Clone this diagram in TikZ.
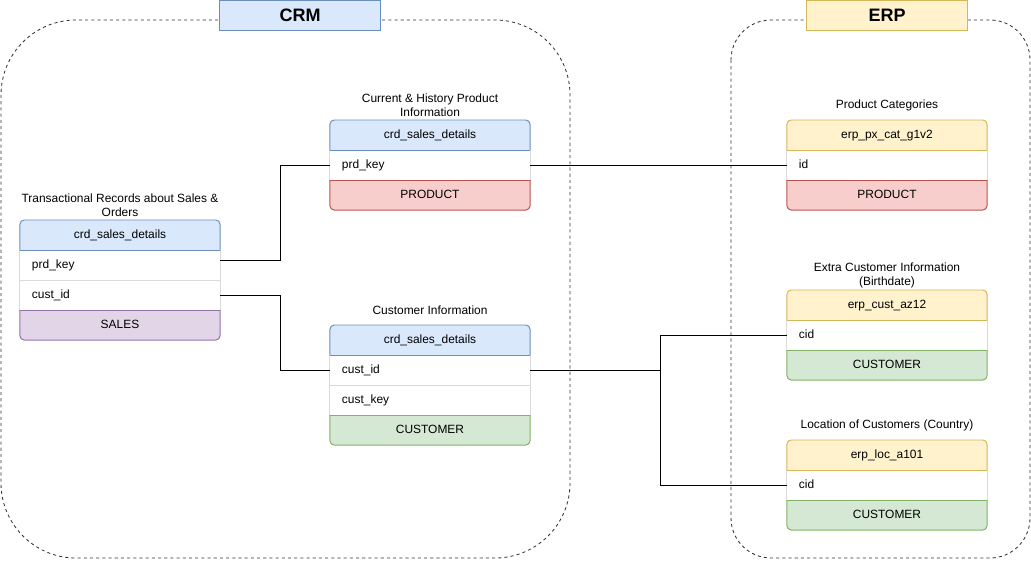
\documentclass[tikz,border=0pt]{standalone}
\usepackage{fontspec}
\setmainfont{Liberation Sans}
\usetikzlibrary{positioning,backgrounds}

\definecolor{fillblue}{HTML}{DAE8FC}
\definecolor{lineblue}{HTML}{6C8EBF}
\definecolor{fillyellow}{HTML}{FFF2CC}
\definecolor{lineyellow}{HTML}{D6B656}
\definecolor{fillred}{HTML}{F8CECC}
\definecolor{linered}{HTML}{B85450}
\definecolor{fillgreen}{HTML}{D5E8D4}
\definecolor{linegreen}{HTML}{82B366}
\definecolor{fillpurple}{HTML}{E1D5E7}
\definecolor{linepurple}{HTML}{9673A6}
\definecolor{rowline}{HTML}{DADADA}

\newcommand\tabfont{\fontsize{8.5}{10}\selectfont}
\newcommand\zonefont{\fontsize{12.8}{15}\selectfont\bfseries}

\begin{document}
\begin{tikzpicture}[x=0.025cm, y=-0.025cm]

\tikzset{
    zone/.style={
        draw=black!80,
        dash pattern=on 2.2pt off 2.2pt,
        line width=.6pt
    },
    zonetitle/.style={draw=line#1, fill=fill#1, line width=.7pt,
        minimum width=4cm, minimum height=.75cm, font=\zonefont},
    tbllabel/.style={align=center, inner sep=0pt, font=\tabfont},
    tblhead/.style={minimum width=5cm, minimum height=.75cm, inner sep=0pt, outer sep=0pt,
        text height=6.2pt, text depth=1.8pt, font=\tabfont},
    tblrow/.style={draw=rowline, fill=white, line width=.7pt, below=0pt of #1,
        minimum width=5cm, minimum height=.75cm, text width=4.4cm, outer sep=0pt,
        inner xsep=.3cm, inner ysep=0pt, align=left,
        text height=6.2pt, text depth=1.8pt, font=\tabfont},
    tblfoot/.style={tblhead, below=0pt of #1},
    link/.style={draw=black, line width=.7pt}
}

\useasboundingbox (0,0) rectangle (1031,561);

% the two source systems
\draw[zone, rounded corners=1.875cm] (1,20) rectangle (570,558);
\draw[zone, rounded corners=1cm] (731,20) rectangle (1030,558);
\node[zonetitle=blue] (crm) at (300,15) {CRM};
\node[zonetitle=yellow] (erp) at (887,15) {ERP};

% CRM tables
\node[tblhead] (shd) at (120,235) {crd\_sales\_details};
\node[tblrow=shd] (srow1) {prd\_key};
\node[tblrow=srow1] (srow2) {cust\_id};
\node[tblfoot=srow2] (sft) {SALES};
\node[tbllabel] at ([yshift=.375cm]shd.north) {Transactional Records about Sales \&\\Orders};

\node[tblhead] (phd) at (430,135) {crd\_sales\_details};
\node[tblrow=phd] (prow1) {prd\_key};
\node[tblfoot=prow1] (pft) {PRODUCT};
\node[tbllabel] at ([yshift=.375cm]phd.north) {Current \& History Product\\Information};

\node[tblhead] (chd) at (430,340) {crd\_sales\_details};
\node[tblrow=chd] (crow1) {cust\_id};
\node[tblrow=crow1] (crow2) {cust\_key};
\node[tblfoot=crow2] (cft) {CUSTOMER};
\node[tbllabel] at ([yshift=.375cm]chd.north) {Customer Information};

% ERP tables
\node[tblhead] (ephd) at (887,135) {erp\_px\_cat\_g1v2};
\node[tblrow=ephd] (eprow1) {id};
\node[tblfoot=eprow1] (epft) {PRODUCT};
\node[tbllabel] at ([yshift=.375cm]ephd.north) {Product Categories};

\node[tblhead] (echd) at (887,305) {erp\_cust\_az12};
\node[tblrow=echd] (ecrow1) {cid};
\node[tblfoot=ecrow1] (ecft) {CUSTOMER};
\node[tbllabel] at ([yshift=.375cm]echd.north) {Extra Customer Information\\(Birthdate)};

\node[tblhead] (elhd) at (887,455) {erp\_loc\_a101};
\node[tblrow=elhd] (elrow1) {cid};
\node[tblfoot=elrow1] (elft) {CUSTOMER};
\node[tbllabel] at ([yshift=.375cm]elhd.north) {Location of Customers (Country)};

% header and footer bands, rounded on the outer side only
\begin{pgfonlayer}{background}
\foreach \hd/\ft/\hc/\fc in {shd/sft/blue/purple, phd/pft/blue/red, chd/cft/blue/green,
    ephd/epft/yellow/red, echd/ecft/yellow/green, elhd/elft/yellow/green} {
    \fill[fill\hc, rounded corners=3pt] (\hd.south west) |- (\hd.north) -| (\hd.south east);
    \fill[fill\fc, rounded corners=3pt] (\ft.north west) |- (\ft.south) -| (\ft.north east);
}
\end{pgfonlayer}
\foreach \hd/\ft/\hc/\fc in {shd/sft/blue/purple, phd/pft/blue/red, chd/cft/blue/green,
    ephd/epft/yellow/red, echd/ecft/yellow/green, elhd/elft/yellow/green} {
    \draw[line\hc, line width=.7pt, rounded corners=3pt] (\hd.south west) |- (\hd.north) -| (\hd.south east);
    \draw[line\hc, line width=.7pt] (\hd.south west) -- (\hd.south east);
    \draw[line\fc, line width=.7pt, rounded corners=3pt] (\ft.north west) |- (\ft.south) -| (\ft.north east);
    \draw[line\fc, line width=.7pt] (\ft.north west) -- (\ft.north east);
}

% relations
\coordinate (fork) at ([xshift=3.25cm]crow1.east);
\draw[link] ([yshift=.125cm]srow1.east) -- ++(60,0) |- (prow1.west);
\draw[link] (srow2.east) -- ++(60,0) |- (crow1.west);
\draw[link] (prow1.east) -- (eprow1.west);
\draw[link] (crow1.east) -- (fork) |- (ecrow1.west);
\draw[link] (fork) |- (elrow1.west);
    %
\end{tikzpicture}
\end{document}
